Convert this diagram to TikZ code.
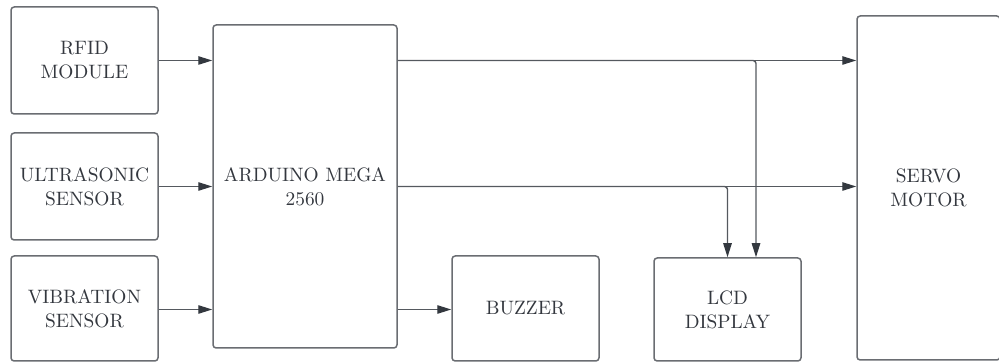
\documentclass[tikz,border=0pt]{standalone}
\usepackage{tikz}
\usetikzlibrary{positioning,arrows.meta,calc}
\usepackage{xcolor}
\definecolor{boxline}{HTML}{6A6D72}
\definecolor{wire}{HTML}{55595F}
\definecolor{tip}{HTML}{33383F}
\definecolor{ink}{HTML}{33373E}

\begin{document}
\begin{tikzpicture}[
    x=0.5pt, y=-0.5pt,
    every node/.style={font=\rmfamily\fontsize{9.7}{12}\selectfont, text=ink, align=center},
    blockbox/.style={draw=boxline, line width=0.75pt, rounded corners=1.6pt, inner sep=0pt},
    conn/.style={draw=wire, line width=0.7pt, -{Triangle[length=7pt, width=4.2pt, fill=tip, color=tip]}}
]
    \useasboundingbox (0,0) rectangle (999,362);

    % Input blocks on the left
    \node[blockbox, minimum width=73.5pt, minimum height=53.5pt] (rfid) at (84.5, 60.5) {RFID\\MODULE};
    \node[blockbox, minimum width=73.5pt, minimum height=53.5pt] (usonic) at (84.5, 186.5) {ULTRASONIC\\SENSOR};
    \node[blockbox, minimum width=73.5pt, minimum height=52.5pt] (vib) at (84.5, 308.5) {VIBRATION\\SENSOR};

    % Controller
    \node[blockbox, minimum width=92pt, minimum height=161.5pt] (ard) at (305, 186.5) {ARDUINO MEGA\\2560};

    % Output blocks
    \node[blockbox, minimum width=73.5pt, minimum height=52.5pt] (buz) at (525.5, 308.5) {BUZZER};
    \node[blockbox, minimum width=73.5pt, minimum height=51.5pt] (lcd) at (727.5, 309.5) {LCD\\DISPLAY};
    \node[blockbox, minimum width=71.5pt, minimum height=172pt] (srv) at (928.5, 188) {SERVO\\MOTOR};

    % Second drop point on the LCD top edge
    \coordinate (lcdtap) at ($(lcd.north)+(28.5,0)$);

    % Sensors into the controller
    \draw[conn] (rfid.east) -- (rfid.east -| ard.west);
    \draw[conn] (usonic.east) -- (usonic.east -| ard.west);
    \draw[conn] (vib.east |- 0,309.5) -- (ard.west |- 0,309.5);

    % Controller to servo, with branches down to the LCD
    \draw[conn] (ard.east |- rfid.east) -- (srv.west |- rfid.east);
    \draw[conn] (ard.east |- usonic.east) -- (srv.west |- usonic.east);
    \draw[conn, rounded corners=1.5pt] (ard.east |- rfid.east) -| (lcdtap);
    \draw[conn, rounded corners=1.5pt] (ard.east |- usonic.east) -| (lcd.north);

    % Controller to buzzer
    \draw[conn] (ard.east |- 0,309.5) -- (buz.west |- 0,309.5);

\end{tikzpicture}
\end{document}
